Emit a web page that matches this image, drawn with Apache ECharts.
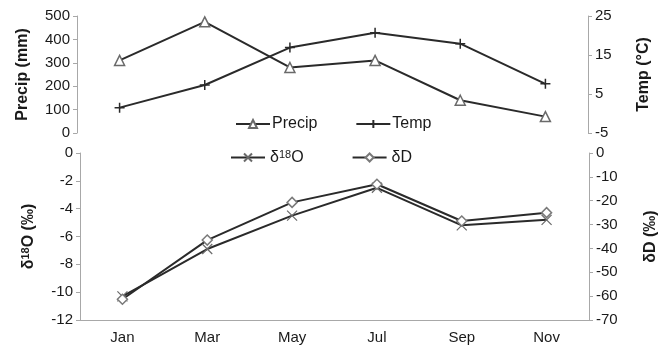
<!DOCTYPE html>
<html>
<head>
<meta charset="utf-8">
<script src="https://cdn.jsdelivr.net/npm/echarts@6/dist/echarts.min.js"></script>
<style>
  html, body { margin: 0; padding: 0; background: #fff; }
  #chart { width: 670px; height: 348px; }
</style>
</head>
<body>
<div id="chart"></div>
<script>
const months = ["Jan", "Mar", "May", "Jul", "Sep", "Nov"];
const precip = [310, 475, 280, 310, 140, 70];
const temp = [1.5, 7.3, 16.9, 20.7, 17.9, 7.6];
const d18O = [-10.3, -6.9, -4.5, -2.5, -5.2, -4.8];
const dD = [-61.3, -36.5, -20.7, -13.1, -28.5, -25.0];

const font = "Liberation Sans, Arial, sans-serif";
const lineColor = "#2a2a2a";
const axisGray = "#a8a8a8";
const textColor = "#1a1a1a";
const plusPath = "path://M0,-10L0,10M-10,0L10,0";
const crossPath = "path://M-10,-10L10,10M-10,10L10,-10";

const axisCommon = {
  axisLine: { show: true, lineStyle: { color: axisGray, width: 1 } },
  axisTick: { show: true, length: 4, lineStyle: { color: axisGray } },
  splitLine: { show: false },
  axisLabel: { color: textColor, fontSize: 15, fontFamily: font, margin: 7 },
  nameLocation: "middle",
  nameTextStyle: { color: textColor, fontSize: 16, fontWeight: "bold", fontFamily: font },
};

var chart = echarts.init(document.getElementById("chart"));
chart.setOption({
  animation: false,
  textStyle: { fontFamily: font },
  grid: [
    { left: 77, right: 82, top: 16, height: 117 },
    { left: 80, right: 81, top: 153, height: 167 },
  ],
  legend: [
    {
      data: ["Precip", "Temp"],
      left: 230, top: 111, itemWidth: 34, itemHeight: 10, itemGap: 38,
      textStyle: { fontSize: 16, color: textColor, fontFamily: font, padding: [0, 0, 0, -3] },
    },
    {
      data: ["δ18O", "δD"],
      left: 225, top: 144, itemWidth: 34, itemHeight: 10, itemGap: 48,
      formatter: (n) => (n === "δ18O" ? "{a|δ}{s|18}{a|O}" : "{a|" + n + "}"),
      textStyle: {
        fontSize: 16, color: textColor, fontFamily: font,
        rich: {
          a: { fontSize: 16, color: textColor, fontFamily: font },
          s: { fontSize: 11, color: textColor, fontFamily: font, verticalAlign: "top", padding: [0, 0, 6, 0] },
        },
      },
    },
  ],
  xAxis: [
    { type: "category", gridIndex: 0, data: months, show: false },
    {
      type: "category", gridIndex: 1, data: months, boundaryGap: true,
      axisLine: { onZero: false, lineStyle: { color: axisGray } },
      axisTick: { length: 4, lineStyle: { color: axisGray } },
      axisLabel: { color: textColor, fontSize: 15, fontFamily: font, margin: 10 },
    },
  ],
  yAxis: [
    Object.assign({}, axisCommon, {
      type: "value", gridIndex: 0, min: 0, max: 500, interval: 100,
      position: "left", name: "Precip (mm)", nameGap: 46,
    }),
    Object.assign({}, axisCommon, {
      type: "value", gridIndex: 0, min: -5, max: 25, interval: 10,
      position: "right", name: "Temp (°C)", nameGap: 48,
    }),
    Object.assign({}, axisCommon, {
      type: "value", gridIndex: 1, min: -12, max: 0, interval: 2,
      position: "left", name: "{a|δ}{s|18}{a|O (‰)}", nameGap: 43,
      nameTextStyle: Object.assign({}, axisCommon.nameTextStyle, {
        rich: {
          a: { fontSize: 16, fontWeight: "bold", color: textColor, fontFamily: font },
          s: { fontSize: 11, fontWeight: "bold", color: textColor, fontFamily: font, verticalAlign: "top", padding: [0, 0, 6, 0] },
        },
      }),
    }),
    Object.assign({}, axisCommon, {
      type: "value", gridIndex: 1, min: -70, max: 0, interval: 10,
      position: "right", name: "δD (‰)", nameGap: 54,
    }),
  ],
  series: [
    {
      name: "Precip", type: "line", xAxisIndex: 0, yAxisIndex: 0, data: precip,
      symbol: "triangle", symbolSize: 10,
      lineStyle: { color: lineColor, width: 2 },
      itemStyle: { color: "#fff", borderColor: "#6a6a6a", borderWidth: 1.5 },
    },
    {
      name: "Temp", type: "line", xAxisIndex: 0, yAxisIndex: 1, data: temp,
      symbol: plusPath, symbolSize: 10,
      lineStyle: { color: lineColor, width: 2 },
      itemStyle: { color: lineColor, borderColor: lineColor, borderWidth: 1.5 },
    },
    {
      name: "δ18O", type: "line", xAxisIndex: 1, yAxisIndex: 2, data: d18O,
      symbol: crossPath, symbolSize: 10,
      lineStyle: { color: lineColor, width: 2 },
      itemStyle: { color: "#6a6a6a", borderColor: "#6a6a6a", borderWidth: 1.2 },
    },
    {
      name: "δD", type: "line", xAxisIndex: 1, yAxisIndex: 3, data: dD,
      symbol: "diamond", symbolSize: 10,
      lineStyle: { color: lineColor, width: 2 },
      itemStyle: { color: "#fff", borderColor: "#7a7a7a", borderWidth: 1.5 },
    },
  ],
});
</script>
</body>
</html>
